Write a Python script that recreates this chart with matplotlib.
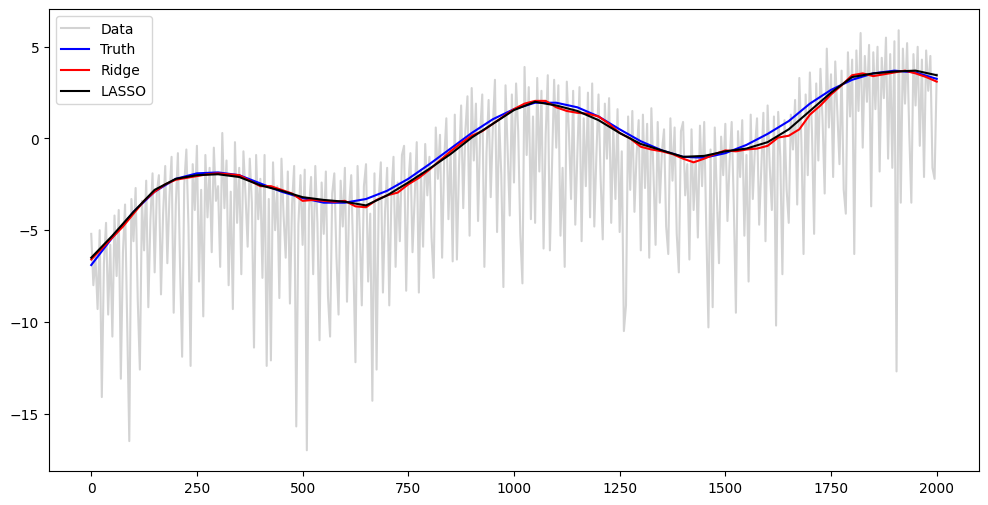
import numpy as np
import matplotlib
matplotlib.use("Agg")
import matplotlib.pyplot as plt

# donnees bruitees (un point tous les 5)
data_x = np.arange(0, 2001, 5)
data_y = [
    -5.2, -8.0, -6.5, -9.3, -5.0, -14.1, -6.8, -4.6, -9.6, -5.8, -10.8, -4.2, -7.5, -3.9, -13.1, -6.2, -3.6, -9.9, -16.5, -3.3,
    -5.6, -2.7, -8.8, -12.6, -3.4, -6.1, -2.3, -9.2, -4.4, -1.9, -7.3, -3.0, -2.0, -8.5, -4.1, -1.5, -6.8, -3.2, -1.0, -9.5,
    -3.6, -0.8, -6.9, -11.9, -2.5, -0.6, -4.8, -12.4, -1.4, -3.9, -0.4, -7.8, -2.8, -9.7, -0.9, -4.3, -1.6, -6.2, -0.5, -3.4,
    -2.6, -7.0, 0.3, -3.8, -1.2, -8.0, -2.9, -9.3, -0.2, -4.6, -1.6, -7.4, -0.7, -3.1, -5.9, -1.1, -3.5, -11.4, -0.9, -4.4,
    -2.2, -7.6, -0.9, -12.4, -3.3, -12.1, -1.3, -5.0, -2.6, -8.7, -1.1, -4.2, -6.5, -1.8, -9.0, -3.6, -1.5, -15.7, -4.7, -2.0,
    -5.8, -1.7, -17.0, -3.9, -2.1, -7.4, -1.5, -4.6, -11.0, -2.4, -5.2, -1.8, -8.6, -10.8, -3.0, -1.9, -6.4, -9.6, -2.3, -4.8,
    -1.6, -8.9, -3.7, -2.0, -6.6, -12.2, -1.5, -4.9, -9.1, -2.6, -1.4, -7.8, -4.1, -14.3, -1.9, -12.6, -3.4, -1.3, -8.4, -4.0,
    -1.6, -9.1, -3.2, -1.0, -7.0, -2.4, -5.6, -0.9, -0.4, -8.3, -2.5, -0.8, -6.2, -3.3, -0.2, -8.4, -1.7, -5.9, -0.3, -3.1,
    -1.0, -5.4, -7.6, 0.6, -2.2, 0.2, -6.5, -1.1, 1.1, -4.4, -0.6, -6.7, 1.3, -6.6, -1.5, 1.8, -3.8, 0.4, 2.3, -5.3,
    2.75, -1.2, 1.9, -4.5, 0.3, 2.4, -7.0, -0.8, 2.1, -3.2, 0.6, 3.2, -5.1, 1.0, -2.0, -8.1, 2.9, -0.6, -4.2, 2.4,
    -2.4, 3.0, 0.4, -5.2, -7.9, 3.9, -0.9, 2.8, -4.4, 1.2, -4.6, 3.3, -1.8, 2.6, -6.0, 0.2, 3.45, -6.1, -1.4, 3.2,
    -0.5, 2.9, -5.3, -1.6, -7.0, 3.1, 0.3, -3.3, 2.6, -4.7, -0.8, 2.8, -5.6, 1.1, -2.6, 2.5, -4.3, 3.0, -4.8, -0.9,
    2.4, -2.2, -5.5, 1.9, -1.1, 2.2, -4.6, 0.6, -3.3, 1.6, -5.1, -0.7, -10.5, -9.1, 1.2, -2.8, 1.5, -4.0, -0.9, 1.0,
    -6.1, 1.3, -2.7, 0.8, -6.5, 1.65, -1.9, -5.8, 0.9, -3.5, -0.7, 0.5, -4.8, -6.3, 1.1, -2.3, 0.6, -5.2, -7.3, 0.4,
    0.9, -3.1, -1.4, -6.6, 0.5, -3.9, -1.0, -5.4, 0.7, -2.6, 0.9, -5.0, -10.3, -0.6, -9.2, 0.6, -3.2, -6.8, 0.1, -2.0,
    0.8, -4.5, -1.3, 0.9, -3.6, -9.5, 0.4, -2.1, 1.0, -5.3, -0.9, -7.8, 1.3, -3.3, -0.5, 1.1, -4.7, -1.6, 1.4, -5.6,
    1.8, -1.5, -3.9, 1.2, -10.2, 1.45, -1.0, -7.4, 1.0, -2.8, -4.6, 1.3, -0.6, 2.1, -3.6, 3.3, -0.2, -6.3, 2.4, -2.0,
    3.6, 0.3, -5.2, 3.0, -1.2, 3.8, 1.0, -3.0, 4.9, 0.6, 3.5, -2.1, 4.2, 1.4, -1.4, 3.7, -2.8, -4.1, 4.7, 1.2,
    4.3, -6.3, 4.8, 1.5, 5.75, -0.5, 4.5, 2.0, 5.1, -3.7, 4.7, 1.6, 5.0, -1.8, 4.4, 2.2, 5.5, -1.1, 4.6, -1.6,
    5.3, -12.7, 5.9, -3.5, 4.9, 1.9, 5.2, 0.4, -3.5, 4.6, 1.8, 5.0, -0.4, 4.3, -2.1, 4.8, 2.6, 4.5, -1.6, -2.2,
    3.5,
]

# courbe vraie et LASSO (un point tous les 50)
curve_x = np.arange(0, 2001, 50)
truth_y = [
    -6.9, -5.4, -4.0, -2.9, -2.2, -1.9, -1.85, -2.0, -2.45, -2.9,
    -3.25, -3.5, -3.5, -3.3, -2.85, -2.2, -1.4, -0.55, 0.3, 1.05,
    1.6, 1.95, 1.95, 1.7, 1.2, 0.5, -0.15, -0.65, -1.0, -1.05,
    -0.8, -0.35, 0.25, 0.95, 1.9, 2.65, 3.2, 3.55, 3.7, 3.6,
    3.25,
]
lasso_y = [
    -6.5, -5.3, -4.0, -2.8, -2.2, -2.0, -1.95, -2.1, -2.55, -2.85,
    -3.2, -3.35, -3.45, -3.65, -3.1, -2.4, -1.65, -0.85, 0.05, 0.8,
    1.55, 2.0, 1.8, 1.5, 1.0, 0.3, -0.3, -0.65, -1.0, -0.95,
    -0.7, -0.55, -0.2, 0.5, 1.5, 2.5, 3.35, 3.55, 3.65, 3.7,
    3.45,
]

# ridge (un point tous les 25)
ridge_x = np.arange(0, 2001, 25)
ridge_y = [
    -6.6, -6.0, -5.4, -4.8, -4.1, -3.4, -2.9, -2.5, -2.25, -2.15,
    -2.05, -1.95, -1.9, -1.95, -2.0, -2.3, -2.6, -2.6, -2.8, -3.0,
    -3.4, -3.35, -3.4, -3.45, -3.4, -3.7, -3.75, -3.35, -3.1, -2.95,
    -2.5, -2.15, -1.7, -1.2, -0.7, -0.25, 0.15, 0.4, 0.8, 1.2,
    1.6, 1.9, 2.05, 2.05, 1.7, 1.5, 1.4, 1.35, 1.2, 0.8,
    0.3, 0.0, -0.45, -0.6, -0.7, -0.85, -1.1, -1.3, -1.1, -0.85,
    -0.65, -0.7, -0.6, -0.55, -0.4, 0.05, 0.15, 0.5, 1.3, 1.8,
    2.4, 2.9, 3.45, 3.55, 3.4, 3.5, 3.6, 3.7, 3.55, 3.35,
    3.1,
]

# trace du graphe
fig, ax = plt.subplots(figsize=(12, 6))

ax.plot(data_x, data_y, color="lightgray", label="Data")
ax.plot(curve_x, truth_y, "b", label="Truth")
ax.plot(ridge_x, ridge_y, "r", label="Ridge")
ax.plot(curve_x, lasso_y, "k", label="LASSO")

ax.legend(loc="upper left")

plt.savefig("out.png", dpi=100, bbox_inches="tight")
